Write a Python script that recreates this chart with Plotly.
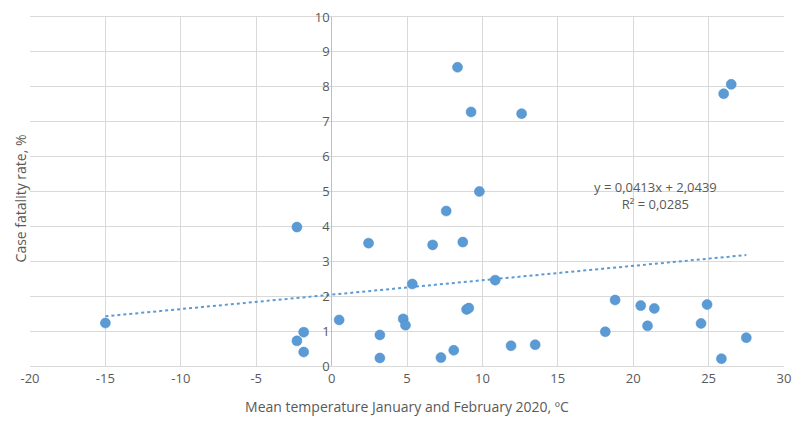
import numpy as np
import plotly.graph_objects as go

temperature = [-15.0, -2.3, -2.3, -1.85, -1.85, 0.5, 2.45, 3.2, 3.2, 4.75, 4.9, 5.35,
               6.7, 7.6, 7.25, 8.1, 8.7, 8.95, 9.1, 9.8, 10.85, 11.9, 13.5, 8.35,
               9.25, 12.6, 26.0, 26.5, 18.15, 18.8, 20.5, 20.95, 21.4, 24.5, 24.9,
               25.85, 27.5]
fatality = [1.23, 3.98, 0.72, 0.97, 0.40, 1.32, 3.52, 0.89, 0.23, 1.35, 1.17, 2.35,
            3.47, 4.44, 0.24, 0.45, 3.55, 1.62, 1.66, 5.0, 2.46, 0.58, 0.61, 8.56,
            7.28, 7.23, 7.8, 8.07, 0.98, 1.89, 1.73, 1.15, 1.65, 1.22, 1.76,
            0.21, 0.81]
slope = 0.0413
intercept = 2.0439
r_squared = 0.0285
x_ticks = [-20, -15, -10, -5, 0, 5, 10, 15, 20, 25, 30]
y_ticks = [0, 1, 2, 3, 4, 5, 6, 7, 8, 9, 10]

blue = "#5b9bd5"
grey_text = "#595959"
font_family = "Open Sans, sans-serif"

trend_x = np.array([min(temperature), max(temperature)])
trend_y = slope * trend_x + intercept

fig = go.Figure()
fig.add_trace(go.Scatter(x=trend_x, y=trend_y, mode="lines",
                         line=dict(color=blue, width=2, dash="dot"),
                         hoverinfo="skip", showlegend=False))
fig.add_trace(go.Scatter(x=temperature, y=fatality, mode="markers",
                         marker=dict(color=blue, size=10,
                                     line=dict(color="#4a8bc9", width=0.5)),
                         showlegend=False))

fmt = lambda v: f"{v:.4f}".replace(".", ",")
fig.add_annotation(x=21.5, y=4.88, xref="x", yref="y",
                   text=f"y = {fmt(slope)}x + {fmt(intercept)}<br>R² = {fmt(r_squared)}",
                   showarrow=False, align="center",
                   font=dict(family=font_family, size=13, color=grey_text))
fig.add_annotation(x=-0.012, y=0.48, xref="paper", yref="paper",
                   text="Case fatality rate, %", textangle=-90, showarrow=False,
                   xanchor="center", yanchor="middle",
                   font=dict(family=font_family, size=14, color=grey_text))

fig.update_layout(
    width=800, height=423,
    margin=dict(l=22, r=24, t=9, b=65),
    paper_bgcolor="white", plot_bgcolor="white",
    font=dict(family=font_family, color=grey_text, size=13),
    xaxis=dict(range=[-20, 30], tickvals=x_ticks, ticktext=[str(v) for v in x_ticks],
               showgrid=True, gridcolor="#d9d9d9", gridwidth=1,
               zeroline=True, zerolinecolor="#bfbfbf", zerolinewidth=1,
               showline=True, linecolor="#d9d9d9", mirror=True,
               ticks="", automargin=False,
               title=dict(text="Mean temperature January and February 2020, ºC",
                          font=dict(size=14, color=grey_text), standoff=16),
               tickfont=dict(size=13, color=grey_text)),
    yaxis=dict(range=[0, 10], tickvals=y_ticks, ticktext=[str(v) for v in y_ticks],
               showgrid=True, gridcolor="#d9d9d9", gridwidth=1,
               zeroline=False, showline=False, automargin=False,
               anchor="free", position=0.4, ticks="", ticklabelstandoff=2,
               ticklabeloverflow="allow",
               tickfont=dict(size=13, color=grey_text)),
)

fig.write_html("out.html")
